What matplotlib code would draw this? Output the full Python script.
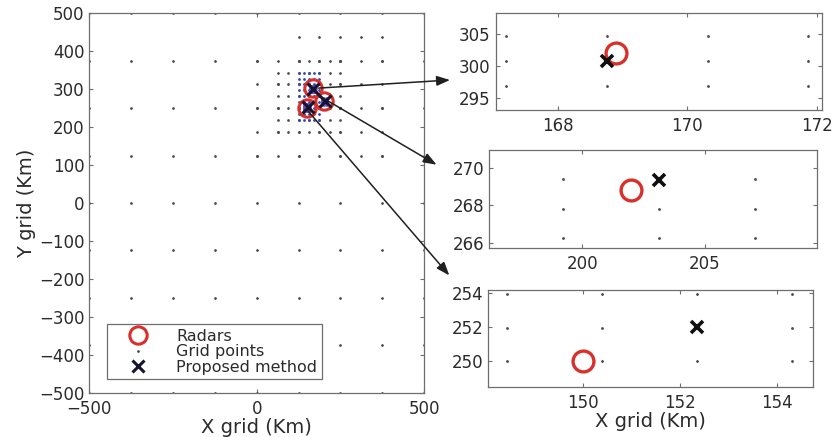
import numpy as np
import matplotlib
matplotlib.use("Agg")
import matplotlib.pyplot as plt
from matplotlib.patches import ConnectionPatch

plt.rcParams['font.family'] = ['DejaVu Sans']

# radar positions and estimates from the proposed method (Km)
radar_x = [168.9, 202.0, 150.0]
radar_y = [302.0, 268.8, 250.0]
est_x = [168.75, 203.13, 152.34]
est_y = [300.8, 269.35, 252.0]

# nested grid levels of the main panel: (x0, x1, y0, y1, step)
coarse_levels = [
    (-500, 500, -500, 500, 125),
    (0, 375, 125, 375, 62.5),
    (125, 375, 437.5, 437.5, 62.5),
    (62.5, 250, 187.5, 343.75, 31.25),
    (125, 250, 375, 375, 31.25),
]
fine_levels = [
    (125, 187.5, 218.75, 343.75, 15.625),
]
# local grids around each radar: (xc, yc, dx, dy, half-width)
local_grids = [
    (168.75, 300.78, 1.5625, 3.90625, 9),
    (203.13, 267.81, 3.90625, 1.5625, 9),
    (150.39, 251.95, 1.953, 1.953, 9),
]

# grid points visible inside each zoom window
zoom_gx = [[167.1875, 168.75, 170.3125, 171.875],
           [199.22, 203.13, 207.03],
           [148.44, 150.39, 152.34, 154.30]]
zoom_gy = [[296.875, 300.78, 304.6875],
           [266.25, 267.81, 269.375],
           [250.0, 251.95, 253.91]]
zoom_xlim = [(167.03, 172.08), (196.2, 209.55), (148.06, 154.74)]
zoom_ylim = [(293.1, 308.3), (265.7, 270.95), (248.45, 254.15)]
zoom_xticks = [[168, 170, 172], [200, 205], [150, 152, 154]]
zoom_yticks = [[295, 300, 305], [266, 268, 270], [250, 252, 254]]

RED = '#d8312c'
DOT = '#4a4a4a'
FRAME = '#6e6e6e'
TXT = '#2b2b2b'


def grid_points(levels):
    xs, ys = [], []
    for x0, x1, y0, y1, s in levels:
        gx, gy = np.meshgrid(np.arange(x0, x1 + s / 2, s), np.arange(y0, y1 + s / 2, s))
        xs.append(gx.ravel())
        ys.append(gy.ravel())
    return np.concatenate(xs), np.concatenate(ys)


def style_axes(ax):
    for sp in ax.spines.values():
        sp.set_color(FRAME)
        sp.set_linewidth(0.9)
    ax.tick_params(direction='in', top=True, right=True, length=3,
                   color=FRAME, labelcolor=TXT, labelsize=12, width=0.8)
    ax.tick_params(axis='x', pad=5)


fig = plt.figure(figsize=(8.37, 4.37), dpi=100)
ax = fig.add_axes([0.1067, 0.1014, 0.400, 0.868])

cx, cy = grid_points(coarse_levels)
fx, fy = grid_points(fine_levels)
ax.plot(cx, cy, '.', color=DOT, ms=1.9, ls='none', label='Grid points')
ax.plot(fx, fy, '.', color='#3347b0', ms=2.0, ls='none')
for xc, yc, dx, dy, h in local_grids:
    lx, ly = np.meshgrid(np.arange(xc - h, xc + h, dx), np.arange(yc - h, yc + h, dy))
    ax.plot(lx.ravel(), ly.ravel(), '.', color='#7048b8', ms=1.5, ls='none')
ax.plot(radar_x, radar_y, 'o', mfc='none', mec=RED, ms=12.5, mew=2.2, ls='none', label='Radars')
ax.plot(est_x, est_y, 'x', color='#141430', ms=8, mew=2.2, ls='none', label='Proposed method')

ax.set_xlim(-500, 500)
ax.set_ylim(-500, 500)
ax.set_xticks([-500, 0, 500])
ax.set_yticks(np.arange(-500, 501, 100))
ax.set_xlabel('X grid (Km)', fontsize=14, color=TXT, labelpad=0)
ax.set_ylabel('Y grid (Km)', fontsize=14, color=TXT, labelpad=2)
style_axes(ax)

handles, labels = ax.get_legend_handles_labels()
order = [labels.index('Radars'), labels.index('Grid points'), labels.index('Proposed method')]
leg = ax.legend([handles[i] for i in order], [labels[i] for i in order],
                loc='lower left', bbox_to_anchor=(0.054, 0.035), borderaxespad=0,
                fontsize=11.5, labelspacing=0.02, handletextpad=0.8, handlelength=3.2,
                borderpad=0.3, fancybox=False, framealpha=1, edgecolor=FRAME)
leg.get_frame().set_linewidth(0.9)
for t in leg.get_texts():
    t.set_color(TXT)

zoom_pos = [[0.5922, 0.7483, 0.3895, 0.2213],
            [0.5842, 0.4318, 0.3915, 0.2250],
            [0.5834, 0.1137, 0.3883, 0.2227]]
arrow_start = [(185, 303), (215, 268), (153, 243)]
arrow_tip = [(-0.14, 0.31), (-0.16, 0.85), (-0.12, 1.15)]

for i in range(3):
    zx = fig.add_axes(zoom_pos[i])
    gx, gy = np.meshgrid(zoom_gx[i], zoom_gy[i])
    zx.plot(gx.ravel(), gy.ravel(), '.', color=DOT, ms=2.0, ls='none')
    zx.plot(radar_x[i], radar_y[i], 'o', mfc='none', mec=RED, ms=15, mew=2.4)
    zx.plot(est_x[i], est_y[i], 'x', color='#101010', ms=9, mew=2.6)
    zx.set_xlim(*zoom_xlim[i])
    zx.set_ylim(*zoom_ylim[i])
    zx.set_xticks(zoom_xticks[i])
    zx.set_yticks(zoom_yticks[i])
    style_axes(zx)
    if i == 2:
        zx.set_xlabel('X grid (Km)', fontsize=14, color=TXT, labelpad=0)
    con = ConnectionPatch(xyA=arrow_start[i], coordsA=ax.transData,
                          xyB=arrow_tip[i], coordsB=zx.transAxes,
                          arrowstyle='-|>,head_length=0.8,head_width=0.3',
                          color='#202020', lw=1.1, mutation_scale=10)
    fig.add_artist(con)

fig.savefig('out.png', dpi=100, facecolor='white')
